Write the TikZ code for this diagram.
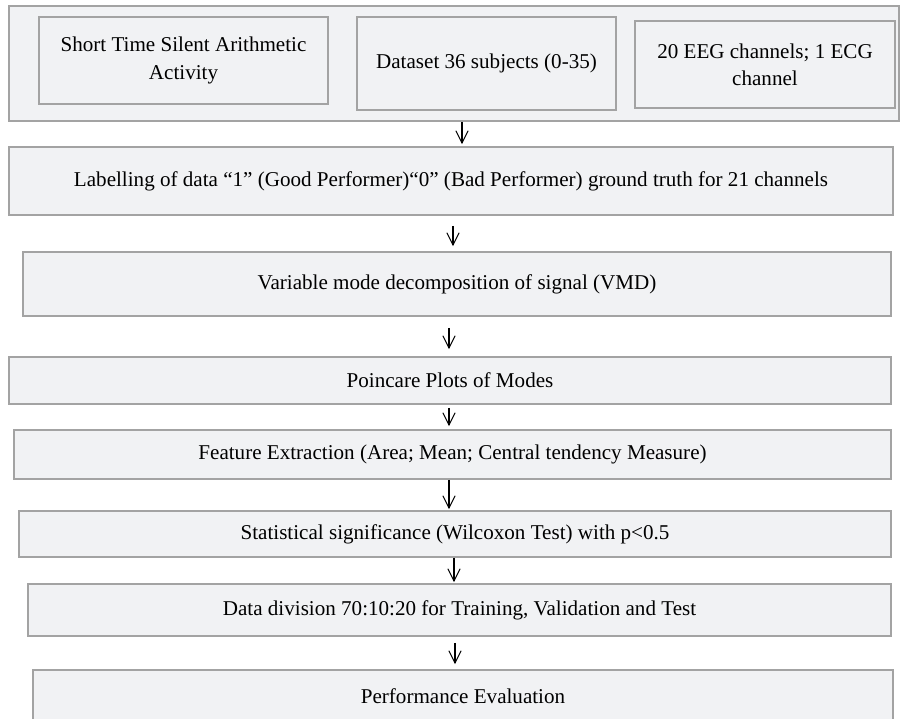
\documentclass[tikz,border=0pt]{standalone}
\usepackage{fontspec}
\setmainfont{Liberation Serif}
\usetikzlibrary{arrows.meta, calc}

\definecolor{boxfill}{HTML}{F1F2F4}
\definecolor{boxline}{HTML}{A3A3A3}

\begin{document}
\begin{tikzpicture}[x=0.02cm, y=-0.02cm,
        stage/.style={draw=boxline, fill=boxfill, line width=0.9pt, inner sep=0pt, align=center, font=\fontsize{12}{15.5}\selectfont},
        flow/.style={-{Straight Barb[length=7pt,width=7pt]}, line width=0.6pt}]
        \useasboundingbox (0,0) rectangle (900,718);
        \clip (0,0) rectangle (900,718);

        % input block
        \node[stage, minimum width=17.8cm, minimum height=2.3cm] (inputs) at (454,63.5) {};
        \node[stage, minimum width=5.78cm, minimum height=1.74cm] (task) at (183.5,60.5) {Short Time Silent Arithmetic\\Activity};
        \node[stage, minimum width=5.18cm, minimum height=1.86cm] (subj) at (486.5,63.5) {Dataset 36 subjects (0-35)};
        \node[stage, minimum width=5.2cm, minimum height=1.74cm] (chan) at (765,64.5) {20 EEG channels; 1 ECG\\channel};

        % pipeline
        \node[stage, minimum width=17.68cm, minimum height=1.36cm] (label) at (451,181) {Labelling of data ``1'' (Good Performer)``0'' (Bad Performer) ground truth for 21 channels};
        \node[stage, minimum width=17.36cm, minimum height=1.28cm] (vmd) at (457,284) {Variable mode decomposition of signal (VMD)};
        \node[stage, minimum width=17.64cm, minimum height=0.94cm] (poinc) at (450,380.5) {Poincare Plots of Modes};
        \node[stage, minimum width=17.54cm, minimum height=0.98cm] (feat) at (452.5,454.5) {Feature Extraction (Area; Mean; Central tendency Measure)};
        \node[stage, minimum width=17.44cm, minimum height=0.92cm] (stat) at (455,534) {Statistical significance (Wilcoxon Test) with p<0.5};
        \node[stage, minimum width=17.26cm, minimum height=1.04cm] (split) at (459.5,610) {Data division 70:10:20 for Training, Validation and Test};
        \node[stage, minimum width=17.2cm, minimum height=1.04cm] (perf) at (463,696) {Performance Evaluation};

        % arrows
        \coordinate (a1) at (462,0);
        \coordinate (a2) at (453,0);
        \coordinate (a3) at (449,0);
        \coordinate (a4) at (454,0);
        \coordinate (a5) at (455,0);

        \draw[flow, shorten >=0.04cm] (inputs.south -| a1) -- (label.north -| a1);
        \draw[flow, shorten <=0.2cm, shorten >=0.1cm] (label.south -| a2) -- (vmd.north -| a2);
        \draw[flow, shorten <=0.22cm, shorten >=0.14cm] (vmd.south -| a3) -- (poinc.north -| a3);
        \draw[flow, shorten <=0.06cm, shorten >=0.06cm] (poinc.south -| a3) -- (feat.north -| a3);
        \draw[flow, shorten >=0.02cm] (feat.south -| a3) -- (stat.north -| a3);
        \draw[flow, shorten >=0.02cm] (stat.south -| a4) -- (split.north -| a4);
        \draw[flow, shorten <=0.12cm, shorten >=0.1cm] (split.south -| a5) -- (perf.north -| a5);
    \end{tikzpicture}
\end{document}
